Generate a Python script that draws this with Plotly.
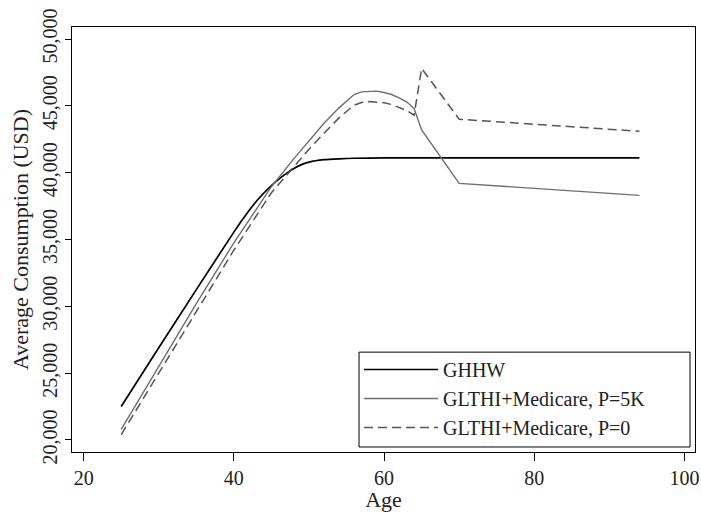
import plotly.graph_objects as go

# Data
ages_ghhw = [25, 30, 35, 40, 41, 42, 43, 44, 45, 46, 47, 48, 49, 50, 52, 54, 56, 60, 70, 80, 94]
ghhw = [22500, 26900, 31250, 35550, 36380, 37150, 37860, 38480, 39030, 39520, 39950, 40320,
        40600, 40790, 40970, 41040, 41080, 41100, 41100, 41100, 41100]

ages_p5k = [25, 30, 35, 40, 45, 48, 50, 52, 54, 56, 57, 58, 59, 60, 61, 62, 63, 64, 65, 70, 94]
p5k = [20800, 25500, 30200, 34750, 38950, 41050, 42350, 43700, 44850, 45850,
       46050, 46100, 46100, 46000, 45850, 45600, 45300, 44800, 43200, 39200, 38300]

ages_p0 = [25, 30, 35, 40, 45, 48, 50, 52, 54, 56, 57, 58, 59, 60, 61, 62, 63, 64, 65, 70, 94]
p0 = [20400, 25000, 29700, 34200, 38500, 40500, 41750, 42950, 44100, 45050,
      45250, 45320, 45300, 45230, 45100, 44900, 44650, 44300, 47800, 44000, 43100]

names = ["GHHW", "GLTHI+Medicare, P=5K", "GLTHI+Medicare, P=0"]
x_ticks = [20, 40, 60, 80, 100]
y_ticks = [20000, 25000, 30000, 35000, 40000, 45000, 50000]
y_tick_labels = ["20,000", "25,000", "30,000", "35,000", "40,000", "45,000", "50,000"]

FONT = "Liberation Serif"
TXT = "#222222"

fig = go.Figure()
fig.add_trace(go.Scatter(x=ages_ghhw, y=ghhw, mode="lines", name=names[0], legendgroup="a",
                         line=dict(color="#000000", width=1.7, shape="spline", smoothing=0.4)))
fig.add_trace(go.Scatter(x=ages_p5k, y=p5k, mode="lines", name=names[1], legendgroup="b",
                         line=dict(color="#6e6e6e", width=1.4)))
fig.add_trace(go.Scatter(x=ages_p0, y=p0, mode="lines", name=names[2], legendgroup="c",
                         line=dict(color="#555555", width=1.5, dash="9px,5px")))

# legend frame (Stata-style box, wider than the text)
fig.add_shape(type="rect", xref="paper", yref="paper",
              x0=0.4607, x1=0.992, y0=0.0118, y1=0.235,
              line=dict(color="#000000", width=1), fillcolor="white", layer="below")

fig.update_layout(
    width=701, height=512,
    margin=dict(l=72, r=6, t=27, b=60),
    paper_bgcolor="white", plot_bgcolor="rgba(0,0,0,0)",
    font=dict(family=FONT, size=20, color=TXT),
    showlegend=True,
    legend=dict(x=0.4607, y=0.24, xanchor="left", yanchor="top",
                borderwidth=0, bgcolor="rgba(0,0,0,0)",
                font=dict(family=FONT, size=20, color=TXT),
                itemwidth=74, tracegroupgap=0),
)
fig.update_xaxes(
    range=[18.45, 101.4], tickvals=x_ticks, ticks="outside", ticklen=8,
    tickcolor="#000000", showline=True, linecolor="#000000", linewidth=1.3,
    mirror=True, showgrid=False, zeroline=False, automargin=False,
    title=dict(text="Age", font=dict(family=FONT, size=22, color=TXT), standoff=0),
    tickfont=dict(family=FONT, size=20, color=TXT),
)
fig.update_yaxes(
    range=[19100, 50900], tickvals=y_ticks, ticktext=y_tick_labels,
    tickangle=-90, ticks="outside", ticklen=6, tickcolor="#000000",
    showline=True, linecolor="#000000", linewidth=1.3, mirror=True,
    showgrid=False, zeroline=False, automargin=False,
    title=dict(text="Average Consumption (USD)", font=dict(family=FONT, size=22, color=TXT), standoff=4),
    tickfont=dict(family=FONT, size=20, color=TXT),
)

fig.write_html("out.html", config={"displayModeBar": False},
               post_script="document.body.style.margin='0px';")
